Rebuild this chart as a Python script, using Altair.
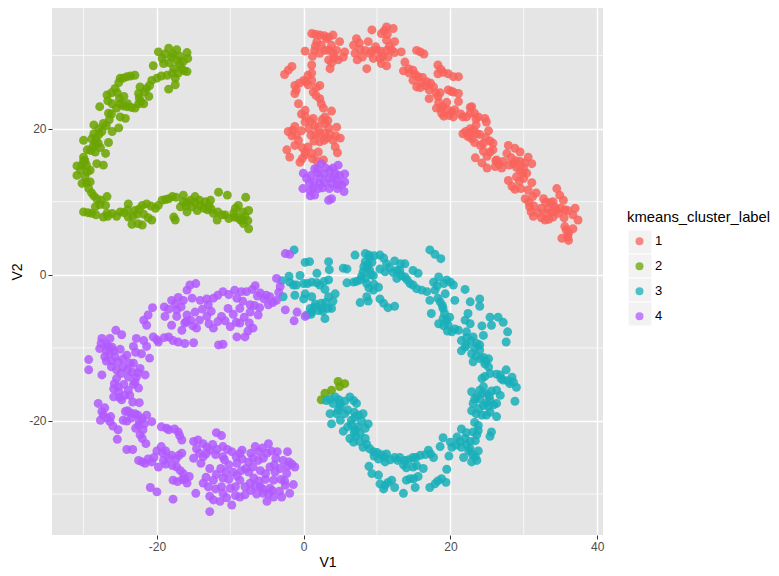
import altair as alt
import pandas as pd

cluster_1 = [(1.1,33.0),(2.2,32.8),(4.0,32.8),(0.2,30.6),(1.8,31.9),(1.5,30.7),(3.1,32.3),(3.8,31.4),(4.9,31.9),(2.9,30.7),(4.0,30.3),(5.6,30.5),(4.7,29.4),(3.6,28.2),(3.4,29.4),(5.4,29.8),(1.1,28.7),(0.6,27.3),(-1.6,28.5),(-2.6,27.4),(-2.1,28.0),
(0,26.6),(-1.2,25.9),(-1.2,24.8),(1.1,26.6),(-0.7,23.4),(2.2,25.9),(1.3,25.0),(2.2,24.1),(0.2,22.5),(2.7,22.8),(3.8,22.4),(0.2,20.9),(1.3,21.4),(2.9,21.6),(2.9,20.7),(4.5,20.2),(-1.2,20.3),(-2.1,19.6),(-0.7,18.4),(-1.2,17.7),(1.0,19.1),(2.2,19.3),(3.6,19.3),(5.0,18.7),(2.2,18.2),(4.0,18.4),(4.3,17.5),(4.6,16.7),(0.6,17.5),(-2.3,17.1),(-1.9,16.1),(-0.5,15.4),(0.2,16.4),(2.0,16.8),(1.8,15.6),(2.7,15.7),
(7.2,32.3),(6.8,31.4),(7.0,30.3),(7.3,29.4),(8.8,31.9),(8.4,30.7),(8.6,28.2),(9.3,33.5),(10.0,30.7),(9.5,29.6),(11.3,33.9),(12.2,33.7),(10.6,33.0),(11.3,32.1),(12.4,31.9),(11.3,30.7),(10.6,28.9),(11.3,28.6),(11.5,29.8),(13.3,30.5),(13.8,29.1),(13.6,27.9),(15.4,30.7),(16.4,30.2),(15.9,30.5),
(14.9,28.0),(15.6,27.1),(14.9,26.6),(15.4,25.7),(16.8,26.4),(17.7,25.7),(17.1,24.1),(18.3,28.7),(18.3,27.5),(19.7,27.5),(21.1,27.1),(19.7,25.3),(21.1,24.8),(20.4,25.0),(18.3,24.4),(18.1,22.8),(19.0,23.0),(18.8,22.1),(20.2,22.3),(20.4,21.6),(21.1,23.7),(21.7,21.6),(22.9,23.0),(22.7,22.1),(23.8,21.6),(24.7,21.4),(24.9,20.9),
(21.7,19.3),(22.7,20.0),(22.9,18.6),(23.6,19.3),(25.2,19.7),(24.5,18.0),(25.8,18.0),(25.4,16.8),(23.4,16.0),(24.3,15.3),(25.0,14.6),(26.3,15.7),(27.0,14.6),(27.9,17.7),(28.8,17.3),(27.7,16.6),(29.5,16.8),(28.6,15.2),(30.6,16.1),(31.1,15.2),(29.5,14.3),(30.4,13.9),(27.9,12.9),(30.0,13.2),(28.8,11.7),(31.1,12.6),(30.6,11.6),
(30.2,10.4),(31.7,11.2),(32.7,10.4),(30.8,9.3),(31.3,8.0),(32.4,9.1),(34.0,10.0),(34.5,11.8),(34.9,10.9),(35.4,10.2),(32.9,7.5),(34.0,7.9),(35.6,8.9),(37.0,9.1),(37.4,7.5),(36.7,8.2),(35.6,6.6),(35.2,5.0),(36.1,4.7),(36.7,6.3),(36.1,5.7),(33.1,8.4),(34.7,8.4),
(1.6,32.9),(2.8,32.7),(3.4,32.5),(1.6,31.3),(2.4,31.4),(2.2,30.3),(3.4,30.7),(4.5,30.7),(4.2,29.7),(3.8,29.0),(1.2,29.9),(1.1,27.6),(0.3,26.4),(-0.6,26.2),(-1.0,25.3),(0.6,26.0),(1.7,25.6),(1.7,24.5),(0.2,21.7),(-0.3,22.0),(0.9,21.0),(2.5,21.2),(3.3,21.1),(3.4,20.1),(-1.5,19.8),(-1.6,19.0),(-1.0,19.1),(1.6,19.2),(2.8,19.4),(3.2,18.7),(4.4,19.0),(1.4,18.3),(2.8,18.4),(0.2,16.8),(-0.2,15.9),
(7.6,31.7),(7.7,30.8),(8.0,29.8),(9.3,30.6),(9.0,30.3),(9.8,31.2),(10.5,30.6),(10.4,29.6),(11.0,33.4),(11.4,32.9),(11.7,31.3),(12.0,30.8),(12.4,30.4),(10.8,29.9),(14.3,28.2),(15.2,27.4),(16.0,26.4),(15.9,25.6),(16.6,25.9),(17.1,25.3),(18.7,28.1),(19.0,27.7),(20.4,27.1),(20.1,25.1),(18.0,24.9),(18.4,23.6),(18.7,22.8),(19.6,22.6),(19.8,21.8),(20.6,22.6),(22.7,22.9),(23.3,22.1),(22.2,21.6),(22.1,19.6),(22.4,18.9),(23.3,18.1),(23.2,19.8),(24.1,17.7),(24.8,18.8),(25.4,18.3),(25.8,17.1),(26.2,15.6),(26.6,15.1),(28.3,16.0),(28.9,15.6),(29.5,15.5),(30.1,15.3),(29.9,13.9),(29.0,13.4),(29.4,12.8),(28.4,12.1),(30.7,9.9),(31.2,10.7),(31.0,8.6),(32.0,8.5),(32.4,7.8),(33.4,7.6),(33.3,9.0),(34.4,8.9),(35.0,9.1),(36.0,8.8),(36.0,5.2),(35.8,6.1),(33.6,9.9),
(0.7,20.0),(1.5,20.4),(-0.3,19.7),(2.0,20.2),(-0.2,17.4),(1.1,16.6),(1.2,15.9),(2.4,23.4),(14.4,27.6),(16.2,27.0),(17.3,26.2),(18.6,24.9),(19.5,23.6),(19.1,21.7),(21.4,22.0),(23.5,21.3),(23.5,20.5),(22.6,19.1),(24.0,19.2),(24.5,16.9),(25.0,16.2),(26.1,14.8),(27.2,15.5),(28.0,15.0),(29.0,14.7),(30.0,14.6),(29.6,11.8),(31.4,9.4),(33.0,9.9),(34.2,9.3),(35.5,7.8),(33.9,8.6)]

cluster_2 = [(-19.8,30.5),(-18.4,31.0),(-17.3,30.8),(-15.9,30.4),(-19.3,29.6),(-18.0,29.8),(-16.4,29.2),(-20.5,28.6),(-19.1,28.9),(-16.6,28.2),(-15.9,27.8),(-17.7,28.2),(-18.6,27.3),(-20.0,26.9),(-20.7,26.6),(-17.5,26.9),(-18.4,25.4),(-17.5,26.0),(-21.4,25.5),(-22.3,25.7),(-22.5,24.8),(-21.1,24.4),(-21.8,23.4),(-23.0,22.8),(-24.1,23.0),(-25.0,23.4),(-23.0,27.3),(-24.1,27.1),(-25.0,26.9),(-25.7,25.5),(-26.8,24.6),(-24.5,24.4),(-26.1,23.4),(-27.8,23.0),(-26.6,22.1),(-25.0,21.6),(-24.3,21.4),(-27.3,20.7),(-28.6,20.5),(-26.1,19.6),(-25.2,20.1),(-28.6,19.3),(-28.9,18.6),(-30.0,18.4),(-26.6,18.1),(-28.0,18.0),(-28.4,16.8),(-27.0,16.6),(-29.5,17.1),(-30.0,16.1),(-28.2,15.2),(-27.3,15.0),(-30.2,15.0),(-30.9,14.9),(-30.9,13.6),(-29.5,14.1),(-29.1,14.3),(-30.2,12.5),(-29.3,11.8),(-29.1,12.7),(-28.2,10.4),(-26.8,10.7),(-27.0,9.5),(-28.4,9.3),(-30.0,8.6),(-28.9,8.4),(-27.3,7.9),(-26.1,8.4),(-25.0,8.6),(-23.9,9.7),(-23.9,7.9),(-23.0,8.8),(-23.4,6.9),(-22.0,6.8),(-20.7,7.5),(-21.4,9.7),(-20.2,9.1),(-19.3,10.2),(-17.9,10.7),(-16.4,10.9),(-17.7,7.9),(-17.5,7.5),(-16.8,9.3),(-14.8,10.7),(-15.4,10.2),(-15.9,8.6),(-14.5,8.8),(-12.7,10.2),(-11.6,11.3),(-10.4,10.9),(-13.6,9.1),(-12.3,8.4),(-11.8,7.5),(-10.7,8.2),(-9.5,7.9),(-8.6,7.5),(-7.5,8.8),(-7.5,6.3),(-7.9,10.6),(-8.9,9.5),(-9.3,9.1),(-8.2,7.0),
(2.9,-16.2),(2.4,-17.1),(3.8,-15.8),(4.7,-14.6),(5.6,-14.9),(4.9,-15.3),
(-18.9,30.2),(-17.8,30.2),(-16.9,29.9),(-17.2,29.3),(-18.3,29.0),(-16.9,28.8),(-17.9,27.6),(-17.1,27.6),(-19.4,27.2),(-21.0,25.9),(-21.7,25.0),(-22.4,24.2),(-22.5,23.4),(-23.5,22.9),(-24.6,23.1),(-24.6,26.9),(-23.6,27.2),(-25.2,26.3),(-25.4,24.9),(-26.2,24.9),(-25.1,24.1),(-25.5,22.8),(-26.2,22.0),(-26.5,21.2),(-26.9,20.4),(-27.5,19.6),(-27.9,20.0),(-27.9,19.2),(-28.3,18.6),(-27.7,17.4),(-28.7,17.6),(-29.0,17.0),(-29.8,15.6),(-29.6,15.0),(-30.4,14.3),(-29.8,13.4),(-29.6,12.6),(-28.9,11.2),(-28.6,10.8),(-27.6,10.2),(-27.8,9.6),(-29.4,8.5),(-28.3,8.2),(-26.7,8.0),(-25.5,8.0),(-24.5,8.5),(-23.3,8.0),(-22.7,8.3),(-22.6,7.0),(-22.0,9.5),(-21.8,8.3),(-21.2,7.8),(-20.8,9.4),(-19.8,9.5),(-18.8,10.3),(-18.4,10.4),(-17.4,10.6),(-16.4,10.0),(-16.0,9.4),(-15.2,9.3),(-14.1,9.5),(-14.8,9.9),(-13.4,10.0),(-13.1,8.9),(-12.6,9.0),(-11.7,8.6),(-11.1,8.2),(-10.2,7.7),(-9.0,7.8),(-8.0,8.0),(-7.6,7.4),(-8.3,8.6),
(-15.8,29.6),(-16.3,27.9),(-22.2,23.7),(-24.0,23.4),(-26.7,23.8),(-28.4,18.0),(-30.0,15.6),(-26.8,8.4),(-24.0,8.9),(-22.4,9.0),(-15.9,9.9),(-14.2,10.2),(-12.9,9.5),(-9.5,8.5),(-8.3,7.5)]

cluster_3 = [(-1.3,3.4),(0.2,1.7),(0.8,1.8),(3.4,1.8),(3.5,0.7),(5.4,0.9),(5.9,0.8),
(7.0,2.7),(8.4,2.9),(9.0,2.4),(10.4,2.7),(8.4,1.8),(11.3,1.5),(12.4,1.9),(13.8,1.5),(14.9,0.6),(15.6,0.2),(17.2,3.4),(17.9,2.8),(18.7,2.2),
(8.1,0.4),(9.0,0.6),(9.5,-0.1),(11.1,0.4),(12.7,0.6),(12.7,-0.5),(13.8,-0.3),(14.5,-1.2),(15.4,-1.9),(16.8,-2.3),
(5.9,-1.1),(6.8,-1.0),(7.7,-0.7),(8.6,-1.2),(9.5,-2.1),(10.2,-1.7),(8.6,-3.0),(7.7,-3.8),(8.8,-3.6),(10.4,-3.3),(10.9,-3.9),(11.5,-4.5),(12.4,-4.3),
(-3.0,-0.8),(-1.9,-1.0),(-0.5,-0.1),(-1.4,-1.4),(-1.2,-2.8),(-2.8,-3.0),(0,-1.2),(0.2,-2.6),(0,-3.3),(1.1,-1.0),(1.8,0.2),(2.2,-1.4),(3.4,-0.7),(4.3,-2.6),(3.4,-3.0),(2.4,-3.9),(1.1,-3.0),(0.9,-4.6),(1.1,-5.1),(2.9,-6.0),(3.8,-4.6),(2.0,-4.9),(0.4,-5.5),
(17.7,-1.0),(18.4,-0.3),(19.5,-0.7),(20.4,-1.4),(22.0,-2.0),(17.9,-2.1),(17.2,-3.5),(18.6,-3.7),(19.3,-2.6),(20.6,-3.5),(17.4,-5.3),(19.0,-4.6),(19.0,-6.0),(18.4,-6.7),(19.7,-6.9),(20.2,-7.8),(21.1,-7.6),(22.7,-3.7),(24.0,-3.3),(24.0,-4.3),(22.4,-5.3),(22.0,-6.2),(22.7,-6.7),(25.4,-5.8),(26.5,-5.8),(27.2,-6.5),(24.3,-7.0),(25.6,-6.9),(27.8,-7.8),(27.6,-9.2),(22.2,-7.8),(23.1,-8.5),(24.5,-8.3),(21.5,-9.0),(22.2,-9.6),(24.0,-9.6),(21.5,-10.4),(22.9,-10.8),(24.0,-10.3),(23.1,-11.9),(25.2,-11.5),(24.5,-11.3),(25.2,-12.6),(24.3,-14.2),(25.4,-13.5),(26.3,-13.6),(27.6,-13.0),(28.4,-14.0),(27.2,-14.4),(28.1,-14.9),(29.0,-15.4),(28.8,-17.3),(24.5,-15.3),(22.9,-16.0),(23.6,-16.7),(25.0,-16.3),(26.3,-15.8),(26.8,-16.5),(25.4,-17.2),(26.3,-17.6),(23.1,-17.6),(24.5,-17.9),(22.9,-18.6),(24.3,-19.2),(26.3,-19.4),(25.4,-18.8),(23.8,-20.6),(23.1,-21.5),(23.8,-21.3),(25.6,-21.5),(25.4,-22.1),(21.5,-21.1),(20.9,-22.2),(22.0,-22.4),(23.4,-22.7),(19.0,-22.3),(18.6,-23.5),(20.2,-23.6),(21.5,-23.6),(22.7,-23.8),(23.8,-24.1),(21.8,-25.0),(23.6,-25.4),(22.9,-25.6),(19.8,-24.8),
(17.0,-24.0),(17.7,-25.0),(15.9,-24.7),(14.9,-25.0),(13.8,-25.4),(14.0,-26.4),(12.4,-25.0),(11.3,-24.5),(11.1,-25.6),(10.0,-24.3),(9.0,-23.8),(10.2,-25.2),(16.3,-26.5),(15.4,-26.1),(8.9,-26.2),(9.3,-27.2),(10.2,-27.4),(10.4,-28.6),(10.9,-29.3),(12.0,-28.1),(12.4,-29.1),(13.6,-29.9),(14.0,-28.1),(15.0,-27.9),(15.2,-29.1),(15.6,-27.6),(17.2,-29.1),(17.9,-28.6),(18.8,-27.9),(19.4,-28.4),(19.5,-26.6),
(3.1,-17.2),(4.3,-16.7),(4.0,-17.6),(6.3,-16.7),(7.2,-17.6),(3.6,-19.0),(5.0,-18.1),(5.6,-19.0),(3.8,-20.4),(5.4,-21.4),(6.5,-19.9),(8.1,-19.0),(8.8,-20.4),(7.4,-20.8),(6.3,-22.4),(7.7,-21.7),(8.4,-22.4),(6.8,-22.9),(8.1,-23.6),(5.0,-19.9),
(8.9,2.7),(9.6,2.6),(10.9,2.3),(8.6,0.9),(8.8,1.4),(9.2,0.0),(7.9,-0.2),(8.4,-0.5),(13.2,1.5),(13.1,0.6),(13.3,-0.1),(14.1,-0.7),(14.9,-1.4),(16.1,-2.1),(7.2,-0.9),(8.9,-1.8),(9.6,-1.3),
(-2.0,-0.2),(-1.0,-1.4),(0.5,-1.2),(1.8,-1.1),(2.8,-0.9),(2.9,-2.0),(3.0,-3.8),(2.5,-4.6),(1.5,-4.4),(1.0,-5.4),(3.3,-4.6),(4.0,-3.6),(18.2,-1.5),(19.1,-1.2),(20.0,-1.0),(18.3,-3.2),(18.9,-4.2),(19.2,-5.3),(19.5,-6.2),(19.1,-7.0),(20.6,-7.4),(22.2,-8.6),(22.8,-9.0),(23.6,-9.4),(22.0,-9.9),(23.5,-11.1),(24.1,-11.5),(24.7,-12.2),(26.8,-13.7),(27.8,-14.5),(28.6,-14.7),(24.4,-16.2),(25.6,-15.9),(24.0,-17.0),(25.3,-16.6),(23.9,-18.3),(25.2,-18.0),(23.5,-19.0),(24.9,-19.2),(23.6,-21.9),(22.7,-22.8),(21.3,-22.8),(22.2,-23.2),(20.8,-23.3),(23.0,-24.6),(23.4,-24.9),(16.6,-24.6),(15.3,-25.0),(14.3,-25.3),(13.1,-25.0),(11.8,-25.3),(10.6,-24.6),(9.5,-24.2),(13.6,-26.0),(14.9,-26.3),(11.5,-28.4),(11.1,-28.8),(14.5,-27.9),(18.3,-28.2),
(3.6,-17.0),(4.8,-17.1),(5.6,-17.3),(6.8,-17.2),(4.5,-19.0),(6.0,-18.5),(6.9,-18.8),(7.5,-19.2),(7.9,-20.0),(8.4,-21.0),(7.0,-21.2),(6.0,-20.8),(7.1,-22.1),(7.6,-22.8),(8.6,-23.2),
(8.2,1.1),(9.3,1.7),(10.4,0.8),(11.7,1.0),(12.2,0.3),(2.6,-5.0),(1.6,-4.0),(19.9,-5.8),(19.6,-7.7),(23.3,-10.0),(24.8,-11.8),(24.7,-13.9),(26.9,-14.2),(24.0,-15.8),(23.3,-17.0),(24.9,-17.5),(25.9,-17.8),(22.5,-24.1),(22.2,-21.6),(23.3,-20.2),(20.0,-22.9),(17.3,-24.5),(12.8,-25.4),(11.0,-24.9),(9.6,-24.8),(4.7,-18.5),(6.5,-20.5),(7.0,-19.5),(5.0,-17.6),(6.9,-21.6)]

cluster_4 = [(-0.05,13.9),(0.4,13.2),(1.5,14.5),(2.4,15.2),(4.7,15.0),(3.6,14.3),(5.6,13.8),(2.2,13.4),(3.4,13.2),(4.5,13.0),(-0.1,11.8),(1.3,11.8),(0.9,10.8),(1.5,10.9),(3.4,10.2),(3.8,10.4),(3.5,11.8),(5.5,11.4),(5.2,12.3),(2.2,12.5),(4.3,13.9),(2.0,11.8),(5.6,12.7),
(-2.5,2.9),(-1.9,2.8),(-3.7,-0.5),(-3.2,-1.6),(-3.7,-3.5),(-4.6,-3.0),(-4.8,-4.1),(-2.5,-4.8),(-0.9,-5.1),(-1.3,-6.3),(0.2,-5.7),
(-5.1,-2.8),(-6.6,-1.5),(-5.9,-2.5),(-7.8,-2.3),(-9.4,-2.1),(-9.1,-3.2),(-11.0,-2.3),(-12.3,-3.2),(-13.0,-4.1),(-14.1,-3.5),(-14.7,-1.2),(-15.9,-2.1),(-15.5,-1.4),(-16.4,-3.5),(-18.0,-3.5),(-19.0,-4.4),(-18.9,-5.7),(-17.3,-4.8),(-15.9,-5.5),(-18.0,-6.9),(-16.6,-7.6),(-14.8,-5.1),(-14.6,-7.3),(-13.2,-5.7),(-12.3,-7.3),(-11.2,-5.7),(-10.0,-7.1),(-10.3,-4.6),(-8.7,-4.6),(-8.7,-6.6),(-7.3,-5.1),(-6.2,-5.5),(-6.9,-7.3),(-8.0,-8.5),(-9.1,-8.5),(-7.3,-4.1),(-16.2,-6.6),
(-20.6,-4.5),(-21.2,-5.5),(-21.8,-6.2),(-21.4,-6.9),(-20.5,-8.5),(-18.4,-8.5),(-19.8,-9.2),(-21.4,-9.8),(-22.1,-10.8),(-21.0,-11.4),(-22.8,-8.7),(-17.1,-9.2),(-16.2,-9.4),(-15.0,-9.3),(-11.6,-9.6),(-11.0,-9.5),
(-25.6,-7.6),(-24.8,-8.2),(-27.5,-8.7),(-26.4,-8.7),(-27.8,-10.1),(-26.6,-9.8),(-23.2,-9.8),(-27.1,-11.2),(-25.7,-11.2),(-24.1,-11.0),(-29.3,-11.6),(-29.3,-13.0),(-27.5,-13.7),(-26.2,-12.6),(-24.6,-12.6),(-23.2,-12.1),(-22.3,-12.8),(-21.6,-13.7),(-22.8,-14.0),(-23.9,-14.0),(-25.5,-14.2),(-25.3,-15.3),(-22.5,-15.5),(-23.9,-15.8),(-25.9,-16.7),(-24.8,-17.1),(-23.7,-16.5),(-22.4,-17.5),
(-28.0,-17.6),(-27.5,-18.7),(-27.7,-19.9),(-26.4,-20.1),(-25.3,-21.2),(-25.4,-22.5),(-26.8,-19.6),
(-24.3,-18.7),(-24.6,-19.9),(-23.0,-19.0),(-21.4,-19.2),(-20.7,-20.1),(-22.5,-20.6),(-22.3,-21.9),(-21.5,-23.1),(-24.1,-23.9),(-23.3,-23.9),
(-22.5,-25.4),(-21.6,-25.8),(-20.7,-25.6),(-19.8,-26.3),(-20.0,-24.1),(-19.4,-23.5),(-18.4,-25.1),(-19.1,-25.4),(-17.3,-26.3),(-16.6,-24.4),(-19.4,-20.8),(-18.4,-21.2),(-17.1,-21.5),(-16.6,-22.6),(-11.9,-21.6),(-11.2,-22.0),
(-17.8,-28.1),(-16.4,-27.2),(-15.9,-28.5),(-20.9,-29.1),(-20.0,-29.7),(-17.8,-30.7),(-14.7,-29.9),(-12.8,-32.4),
(-15.0,-22.8),(-13.7,-23.1),(-15.0,-25.1),(-13.7,-24.9),(-12.8,-24.0),(-11.0,-23.5),(-9.8,-24.2),(-8.7,-24.4),(-11.0,-24.9),(-6.6,-23.5),(-4.8,-23.1),(-5.0,-24.4),(-3.6,-24.2),(-2.2,-24.2),(-6.2,-25.4),(-7.5,-25.6),(-9.1,-25.8),(-12.8,-26.5),(-11.3,-26.5),(-9.6,-27.0),(-7.5,-27.0),(-4.6,-26.3),(-2.8,-25.4),(-1.2,-26.3),(-2.3,-27.2),(-1.4,-28.7),(-2.5,-28.8),(-4.1,-28.1),(-13.7,-28.5),(-12.3,-28.1),(-11.2,-29.0),(-10.0,-29.2),(-12.8,-30.3),(-11.4,-31.0),(-9.8,-31.5),(-8.7,-30.4),(-8.0,-30.1),(-7.3,-28.5),(-5.9,-29.0),(-5.0,-31.0),(-5.5,-29.9),(-4.1,-30.4),(-3.0,-30.4),(-1.9,-29.9),(-8.7,-28.1),(-4.6,-29.2),
(1.9,14.5),(3.0,14.6),(4.0,14.6),(1.0,13.6),(1.9,13.9),(2.8,13.8),(4.0,13.3),(4.9,13.6),(0.8,12.5),(1.4,12.7),(2.8,12.6),(3.8,12.5),(4.6,12.3),(0.9,11.5),(2.6,11.9),(4.6,11.8),
(-3.4,-2.4),(-4.2,-3.8),(-5.4,-3.3),(-6.3,-2.9),(-7.0,-2.0),(-8.5,-2.3),(-10.2,-2.7),(-11.7,-2.8),(-13.2,-3.3),(-15.2,-3.2),(-17.1,-3.1),(-17.5,-4.0),(-18.4,-4.7),(-16.7,-4.4),(-17.3,-5.7),(-16.0,-6.4),(-15.4,-6.2),(-15.1,-7.0),(-14.2,-6.2),(-13.8,-4.7),(-12.6,-5.0),(-12.9,-6.7),(-11.7,-6.4),(-10.7,-6.3),(-9.6,-5.4),(-9.2,-6.5),(-8.1,-5.8),(-7.4,-6.6),(-7.6,-7.7),(-8.3,-3.6),(-6.7,-4.2),(-6.0,-4.5),(-20.0,-8.9),(-19.0,-8.6),(-17.8,-9.0),(-21.8,-9.0),
(-26.9,-9.5),(-26.1,-9.9),(-26.5,-10.8),(-26.9,-11.8),(-26.2,-11.8),(-25.3,-11.9),(-24.6,-11.5),(-23.7,-12.1),(-25.5,-13.0),(-24.9,-13.5),(-23.4,-13.3),(-22.6,-13.4),(-25.9,-15.6),(-25.2,-16.0),(-24.5,-15.0),(-23.2,-15.0),(-25.1,-16.8),(-27.3,-19.2),(-26.0,-20.7),(-24.0,-18.6),(-23.6,-18.9),(-22.6,-19.2),(-22.0,-19.7),(-22.4,-20.0),(-22.9,-21.0),(-22.0,-22.4),(-22.0,-25.6),(-19.2,-24.4),(-18.8,-25.9),(-17.9,-26.1),(-16.8,-26.8),(-16.5,-28.0),(-17.2,-28.3),(-18.7,-21.0),(-17.6,-21.1),(-16.9,-22.0),(-17.4,-25.2),(-14.6,-23.8),(-14.2,-24.4),(-13.2,-23.6),(-12.4,-23.2),(-11.8,-23.9),(-10.4,-23.9),(-9.2,-24.9),(-8.4,-25.2),(-7.9,-26.5),(-6.9,-26.3),(-6.1,-24.2),(-5.6,-23.7),(-5.5,-25.1),(-4.4,-24.1),(-3.8,-25.1),(-4.0,-26.0),(-3.2,-26.5),(-2.2,-26.2),(-2.6,-28.2),(-6.8,-27.8),(-6.1,-28.2),(-5.2,-28.0),(-5.6,-29.3),(-4.8,-30.0),(-6.6,-28.9),(-9.1,-27.5),(-8.5,-26.8),(-11.0,-27.8),(-11.0,-29.9),(-10.5,-30.5),(-9.3,-30.2),(-12.0,-29.3),(-12.3,-30.8),(-13.3,-27.7),
(-14.4,-22.6),(-13.3,-24.5),(-14.0,-25.8),(-12.0,-24.6),(-10.8,-25.3),(-10.2,-26.0),(-8.4,-24.0),(-7.2,-24.4),(-6.9,-25.1),(-5.9,-26.8),(-5.2,-27.2),(-3.9,-27.0),(-3.1,-28.0),(-2.0,-25.6),(-1.6,-25.9),(-3.3,-29.6),(-4.3,-29.5),(-6.4,-30.0),(-7.2,-29.5),(-8.0,-29.0),(-9.3,-29.0),(-10.2,-28.0),(-10.6,-27.0),(-11.9,-27.3),(-13.0,-29.0),(-17.0,-24.7),(-18.0,-24.7),(-18.8,-24.1),(-20.4,-25.0),(-21.2,-25.2),(-16.2,-27.9),(-15.6,-27.6),(-21.7,-20.4),(-21.9,-21.2),(-24.1,-20.0),(-23.5,-19.6),(-27.1,-18.2),(-26.3,-19.4),(-25.8,-14.9),(-24.4,-16.5),(-23.3,-17.4),(-22.9,-10.6),(-25.0,-10.2),(-25.9,-10.4),(-27.6,-9.4),(-26.9,-10.4),(-24.0,-13.0),(-23.0,-14.7)]

labels = ["1", "2", "3", "4"]
colors = ["#F9635C", "#6BA500", "#19AFB9", "#B25AFF"]
x_major = [-20, 0, 20, 40]
y_major = [-20, 0, 20]
x_minor = [-30, -10, 10, 30]
y_minor = [-30, -10, 10, 30]
key_rows = [234, 258, 282, 306]

rows = []
for lab, pts in zip(labels, [cluster_1, cluster_2, cluster_3, cluster_4]):
    rows += [{"V1": a, "V2": b, "kmeans_cluster_label": lab} for a, b in pts]
df = pd.DataFrame(rows)

font = "Liberation Sans"
xs = alt.Scale(domain=[-34.3, 40.8], nice=False, zero=False)
ys = alt.Scale(domain=[-35.6, 36.5], nice=False, zero=False)

def ax(vals, title, **kw):
    return alt.Axis(values=vals, title=title, grid=True, gridColor="white", gridWidth=1.5,
                    domain=False, tickColor="#333333", tickSize=4, tickWidth=1,
                    labelColor="#4d4d4d", labelFontSize=12, labelFont=font, labelPadding=2,
                    labelExpr="'' + datum.value",
                    titleFont=font, titleFontSize=14, titleFontWeight="normal",
                    titleColor="black", **kw)

x_axis = ax(x_major, "V1", titlePadding=3)
y_axis = ax(y_major, "V2", titlePadding=4)

minor_x = alt.Chart(pd.DataFrame({"v": x_minor})).mark_rule(color="white", strokeWidth=0.7).encode(
    x=alt.X("v:Q", scale=xs, axis=x_axis))
minor_y = alt.Chart(pd.DataFrame({"v": y_minor})).mark_rule(color="white", strokeWidth=0.7).encode(
    y=alt.Y("v:Q", scale=ys, axis=y_axis))

keys = [alt.Chart(alt.Data(values=[{"k": 1}])).mark_square(size=529, color="#f2f2f2", opacity=1, clip=False).encode(
    x=alt.value(588), y=alt.value(r)) for r in key_rows]

points = alt.Chart(df).mark_circle(size=80, opacity=0.85).encode(
    x=alt.X("V1:Q", scale=xs, axis=x_axis),
    y=alt.Y("V2:Q", scale=ys, axis=y_axis),
    color=alt.Color("kmeans_cluster_label:N",
                    scale=alt.Scale(domain=labels, range=colors),
                    legend=alt.Legend(orient="none", legendX=575, legendY=202, padding=0,
                                      title="kmeans_cluster_label", titleFont=font,
                                      titleFontSize=14.8, titleFontWeight="normal", titleColor="black",
                                      titlePadding=10, labelFont=font, labelFontSize=13,
                                      labelColor="black", symbolType="circle", symbolSize=64,
                                      symbolOpacity=0.75, symbolOffset=6, labelOffset=9,
                                      rowPadding=11)),
)

chart = alt.layer(minor_x, minor_y, *keys, points).properties(
    width=551, height=527,
    autosize=alt.AutoSizeParams(type="none"),
    padding={"left": 44, "top": 0, "right": 168, "bottom": 37},
).configure_view(fill="#E5E5E5", stroke=None)

chart.save("out.html", embed_options={"renderer": "svg", "actions": False})
